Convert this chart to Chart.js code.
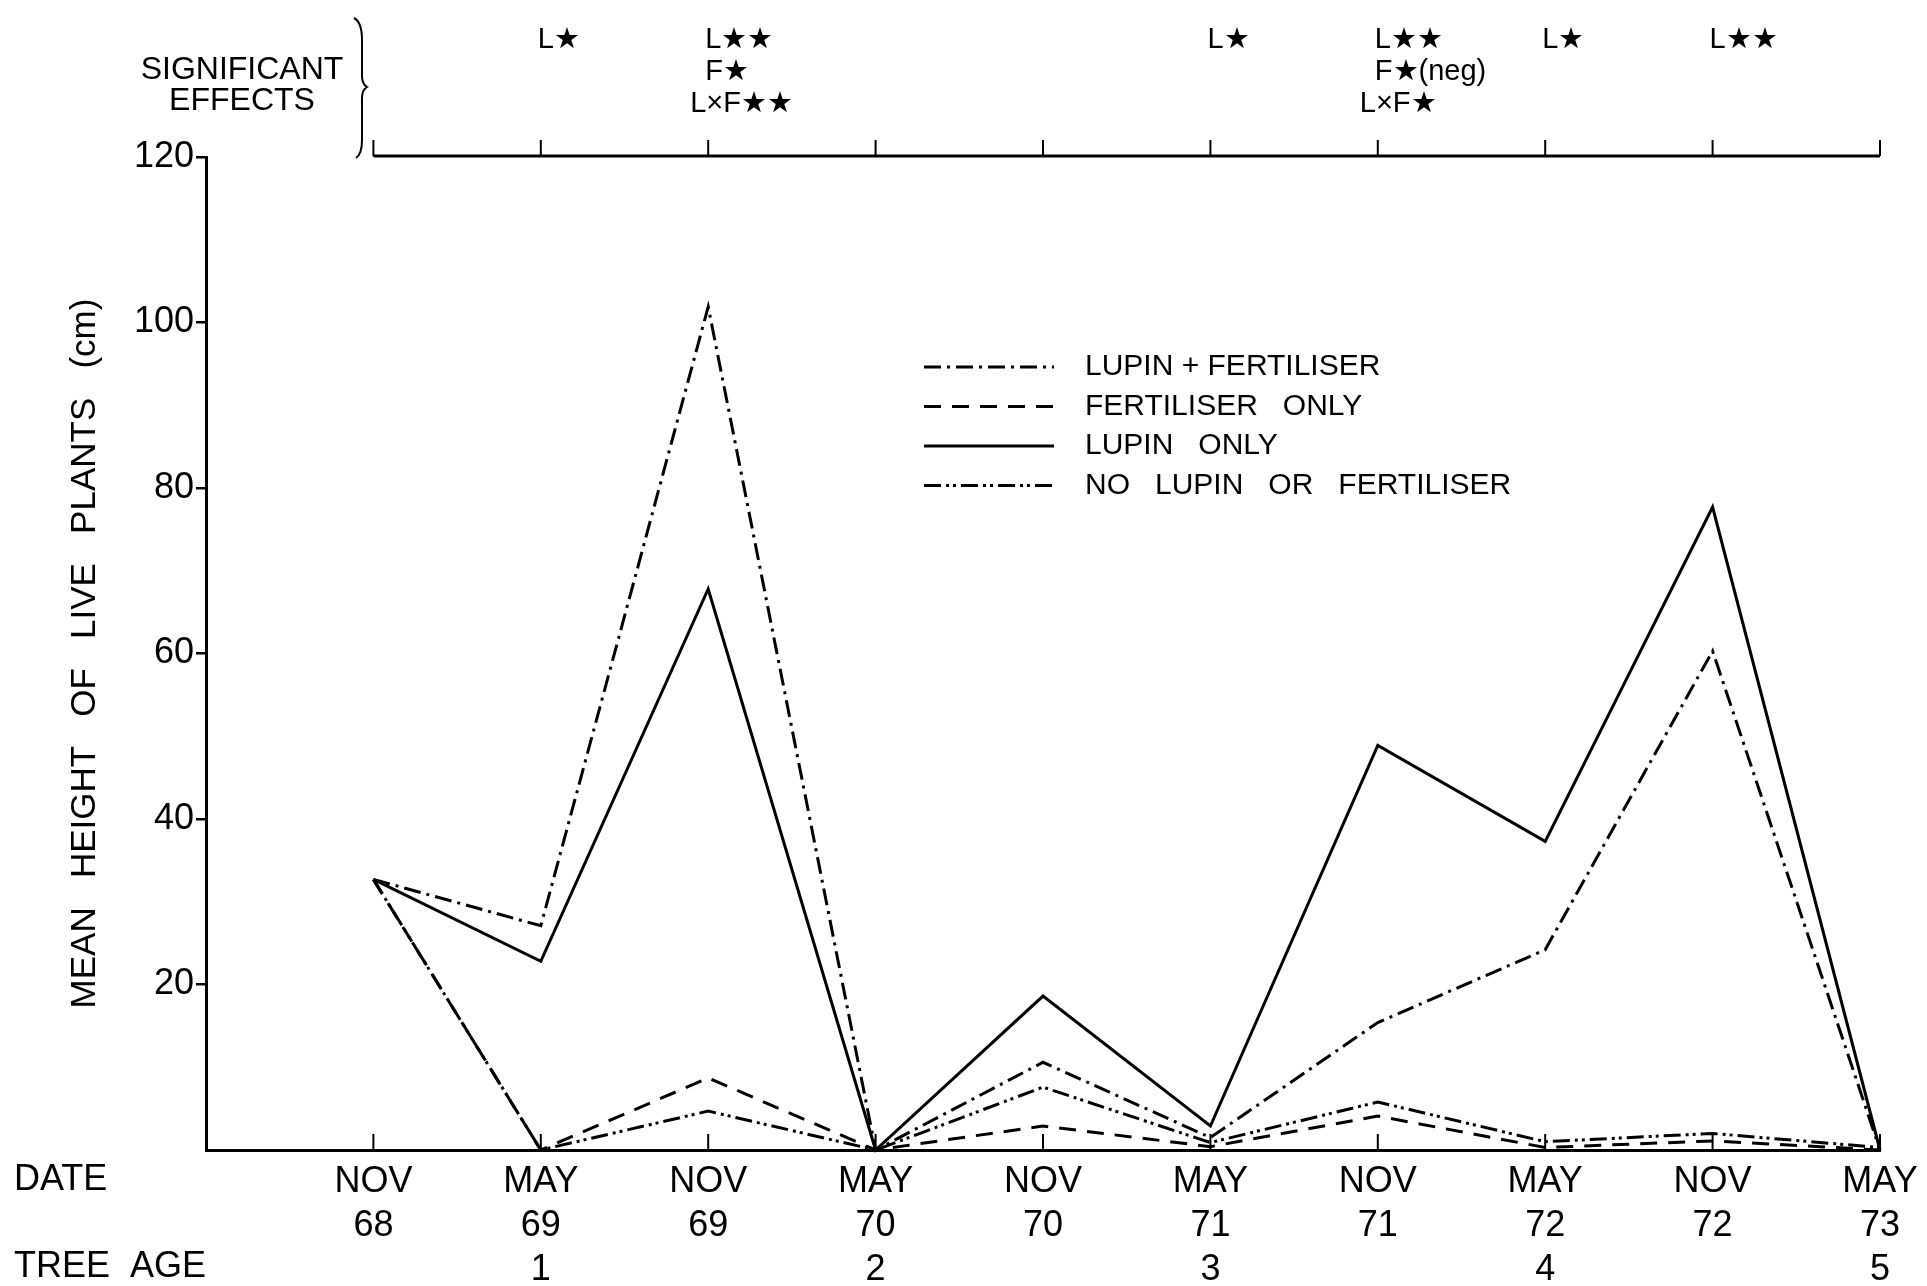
<!DOCTYPE html>
<html>
<head>
<meta charset="utf-8">
<title>Mean height of live plants</title>
<script src="https://cdn.jsdelivr.net/npm/chart.js@4.4.1/dist/chart.umd.min.js"></script>
<style>
  html, body { margin: 0; padding: 0; background: #fff; }
  #chart { display: block; }
</style>
</head>
<body>
<canvas id="chart" width="1927" height="1286" style="width:1927px;height:1286px"></canvas>
<script>
// x axis: one point every six months, Nov 68 .. May 73
const months = ['NOV', 'MAY', 'NOV', 'MAY', 'NOV', 'MAY', 'NOV', 'MAY', 'NOV', 'MAY'];
const years = ['68', '69', '69', '70', '70', '71', '71', '72', '72', '73'];
const treeAge = ['', '1', '', '2', '', '3', '', '4', '', '5'];

// mean height of live plants (cm)
const lupinFert = [32.7, 27.1, 101.9, 0, 10.6, 1.5, 15.4, 24.2, 60.3, 0];
const fertOnly = [32.7, 0, 8.7, 0, 2.9, 0.4, 4.1, 0.3, 1.1, 0];
const lupinOnly = [32.7, 22.8, 67.8, 0, 18.6, 2.9, 48.9, 37.3, 77.7, 0];
const noLupinFert = [32.7, 0, 4.7, 0, 7.6, 0.9, 5.8, 1.0, 2.0, 0.3];

const yTicks = [0, 20, 40, 60, 80, 100, 120];

// significant effects written above each date (index into months)
const sigAt = [1, 2, 5, 6, 7, 8];
const sigText = [
    ['L★'],
    ['L★★', 'F★', 'L×F★★'],
    ['L★'],
    ['L★★', 'F★(neg)', 'L×F★'],
    ['L★'],
    ['L★★']
];

const seriesNames = ['LUPIN + FERTILISER', 'FERTILISER   ONLY', 'LUPIN   ONLY', 'NO   LUPIN   OR   FERTILISER'];

const FONT = "'Liberation Sans', Arial, sans-serif";
Chart.defaults.font.family = FONT;
Chart.defaults.color = '#000';

const toPoints = arr => arr.map((v, i) => ({ x: i, y: v }));

const lineSet = (label, values, dash) => ({
    label: label,
    data: toPoints(values),
    borderColor: '#000',
    borderWidth: 3,
    borderDash: dash,
    pointRadius: 0,
    fill: false,
    tension: 0,
    clip: false
});

// extra drawing: top effects axis, legend, row titles, inner ticks
const extras = {
    id: 'extras',
    afterDraw(chart) {
        const ctx = chart.ctx;
        const area = chart.chartArea;
        const xs = chart.scales.x;
        ctx.save();
        ctx.strokeStyle = '#000';
        ctx.fillStyle = '#000';
        ctx.lineCap = 'butt';

        // small upward ticks on the date axis
        ctx.lineWidth = 2;
        months.forEach((m, i) => {
            const px = xs.getPixelForValue(i);
            ctx.beginPath();
            ctx.moveTo(px, area.bottom);
            ctx.lineTo(px, area.bottom - 16);
            ctx.stroke();
        });

        // top axis for significant effects
        const topY = area.top - 1;
        ctx.lineWidth = 3;
        ctx.beginPath();
        ctx.moveTo(xs.getPixelForValue(0), topY);
        ctx.lineTo(xs.getPixelForValue(months.length - 1), topY);
        ctx.stroke();
        ctx.lineWidth = 2;
        months.forEach((m, i) => {
            const px = xs.getPixelForValue(i);
            ctx.beginPath();
            ctx.moveTo(px, topY);
            ctx.lineTo(px, topY - 16);
            ctx.stroke();
        });

        // brace
        ctx.lineWidth = 2;
        ctx.beginPath();
        ctx.moveTo(354, 18);
        ctx.quadraticCurveTo(362, 22, 362, 40);
        ctx.lineTo(362, 76);
        ctx.quadraticCurveTo(362, 84, 367, 87);
        ctx.quadraticCurveTo(362, 90, 362, 98);
        ctx.lineTo(362, 140);
        ctx.quadraticCurveTo(362, 154, 356, 158);
        ctx.stroke();

        ctx.font = '32px ' + FONT;
        ctx.textAlign = 'center';
        ctx.textBaseline = 'middle';
        ctx.fillText('SIGNIFICANT', 242, 70);
        ctx.fillText('EFFECTS', 242, 101);

        ctx.font = '29px ' + FONT;
        ctx.textAlign = 'left';
        sigAt.forEach((idx, k) => {
            const px = xs.getPixelForValue(idx);
            sigText[k].forEach((t, j) => {
                const dx = t.startsWith('L×') ? -18 : -3;
                ctx.fillText(t, px + dx, 40 + j * 32);
            });
        });

        // row titles under the plot
        ctx.font = '36px ' + FONT;
        ctx.fillText('DATE', 14, 1180);
        ctx.fillText('TREE  AGE', 14, 1267);

        // legend inside the plot
        const lx = area.left + 718;
        const ly = area.top + 210;
        ctx.font = '30px ' + FONT;
        chart.data.datasets.forEach((ds, i) => {
            const y = ly + i * 39.5;
            ctx.lineWidth = 3;
            ctx.setLineDash(ds.borderDash || []);
            ctx.beginPath();
            ctx.moveTo(lx, y);
            ctx.lineTo(lx + 130, y);
            ctx.stroke();
            ctx.setLineDash([]);
            ctx.fillText(seriesNames[i], lx + 161, y);
        });
        ctx.restore();
    }
};

new Chart(document.getElementById('chart'), {
    type: 'line',
    data: {
        datasets: [
            lineSet(seriesNames[0], lupinFert, [17, 6, 3, 6]),
            lineSet(seriesNames[1], fertOnly, [17, 11]),
            lineSet(seriesNames[2], lupinOnly, []),
            lineSet(seriesNames[3], noLupinFert, [17, 5, 3, 4, 3, 5])
        ]
    },
    options: {
        responsive: false,
        animation: false,
        layout: { padding: { top: 157, right: 47, left: 0, bottom: 0 } },
        plugins: {
            legend: { display: false },
            tooltip: { enabled: false }
        },
        scales: {
            x: {
                type: 'linear',
                min: -1,
                max: months.length - 1,
                afterBuildTicks: s => { s.ticks = months.map((m, i) => ({ value: i })); },
                afterFit: s => { s.height = 136; },
                grid: { display: false },
                border: { display: true, color: '#000', width: 3 },
                ticks: {
                    autoSkip: false,
                    maxRotation: 0,
                    padding: 2,
                    font: { size: 36, lineHeight: 1.22 },
                    callback: v => [months[v], years[v], treeAge[v]]
                }
            },
            y: {
                min: 0,
                max: 120,
                afterBuildTicks: s => { s.ticks = yTicks.map(v => ({ value: v })); },
                afterFit: s => { s.width = 206; },
                grid: {
                    drawOnChartArea: false,
                    drawTicks: true,
                    tickLength: 10,
                    lineWidth: 2.5,
                    color: c => (c.tick && c.tick.value === 0 ? 'rgba(0,0,0,0)' : '#000')
                },
                border: { display: true, color: '#000', width: 3 },
                ticks: {
                    padding: 2,
                    font: { size: 36 },
                    callback: v => (v === 0 ? '' : String(v))
                },
                title: {
                    display: true,
                    text: 'MEAN   HEIGHT   OF   LIVE   PLANTS   (cm)',
                    font: { size: 35 },
                    padding: { top: 64, bottom: 0 }
                }
            }
        }
    },
    plugins: [extras]
});
</script>
</body>
</html>
